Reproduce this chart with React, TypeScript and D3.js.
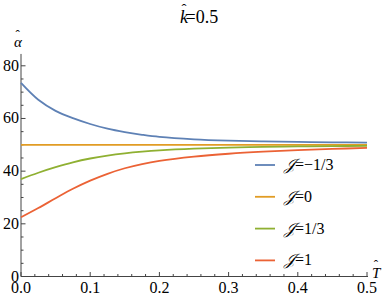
import React from "react";
import * as d3 from "d3";

const T = [0, 0.025, 0.05, 0.075, 0.1, 0.125, 0.15, 0.175, 0.2, 0.25, 0.3, 0.35, 0.4, 0.45, 0.5];
const blue = [73.5, 67.1, 62.9, 60.1, 57.9, 56.1, 54.8, 53.8, 53.0, 52.1, 51.6, 51.3, 51.1, 50.95, 50.8];
const orange = [50, 50, 50, 50, 50, 50, 50, 50, 50, 50, 50, 50, 50, 50, 50];
const green = [37.0, 39.4, 41.5, 43.35, 44.8, 45.9, 46.75, 47.4, 47.9, 48.55, 48.95, 49.2, 49.4, 49.5, 49.6];
const red = [22.5, 26.0, 29.7, 33.3, 36.4, 39.0, 41.1, 42.7, 43.9, 45.5, 46.6, 47.4, 48.0, 48.45, 48.8];
const labels = ["=\u22121/3", "=0", "=1/3", "=1"];
const colors = ["#5E81B5", "#E19C24", "#8FB032", "#EB6235"];
const series = [blue, orange, green, red];
const xTicks = [0, 0.1, 0.2, 0.3, 0.4, 0.5];
const yTicks = [0, 20, 40, 60, 80];

const font = "'Liberation Serif', serif";
const fs = { fontFamily: font };

export default function App() {
  const W = 388, H = 300;
  const x = d3.scaleLinear().domain([0, 0.5]).range([21, 367]);
  const y = d3.scaleLinear().domain([0, 80]).range([276.5, 65.8]);
  const line = (vals: number[]) =>
    d3.line<number>().x((_, i) => x(T[i])).y((d) => y(d)).curve(d3.curveCatmullRom.alpha(0.5))(vals) as string;
  const xMinor = d3.range(0, 0.5001, 0.02).filter((v) => Math.abs(v * 10 - Math.round(v * 10)) > 1e-6);
  const yMinor = d3.range(0, 85, 5).filter((v) => v % 20 !== 0);
  const axisCol = "#444";
  return (
    <svg width={W} height={H} style={{ position: "absolute", left: 0, top: 0, background: "#fff" }}>
      <text x={180} y={23} fontSize={18} style={fs}>
        <tspan fontStyle="italic">k</tspan>
        <tspan dx={-6.5} dy={-9} fontSize={15}>ˆ</tspan>
        <tspan dx={-1} dy={9}>=0.5</tspan>
      </text>
      <text x={14} y={47} fontSize={15} style={fs}>
        <tspan fontStyle="italic">α</tspan>
        <tspan dx={-6.5} dy={-8} fontSize={13}>ˆ</tspan>
      </text>
      <text x={372} y={278} fontSize={15} style={fs}>
        <tspan fontStyle="italic">T</tspan>
        <tspan dx={-6.5} dy={-9} fontSize={13}>ˆ</tspan>
      </text>
      <line x1={x(0)} x2={x(0)} y1={y(0)} y2={y(84.5)} stroke={axisCol} strokeWidth={1} />
      <line x1={x(0)} x2={x(0.5) + 1} y1={y(0)} y2={y(0)} stroke={axisCol} strokeWidth={1} />
      {yTicks.map((t) => (
        <g key={"y" + t}>
          <line x1={x(0)} x2={x(0) + 4.5} y1={y(t)} y2={y(t)} stroke={axisCol} />
          <text x={x(0) - 2} y={y(t) + 5} fontSize={16} textAnchor="end" style={fs}>{t}</text>
        </g>
      ))}
      {yMinor.map((t) => (
        <line key={"ym" + t} x1={x(0)} x2={x(0) + 2.5} y1={y(t)} y2={y(t)} stroke={axisCol} />
      ))}
      {xTicks.map((t) => (
        <g key={"x" + t}>
          <line x1={x(t)} x2={x(t)} y1={y(0)} y2={y(0) - 4.5} stroke={axisCol} />
          <text x={x(t)} y={y(0) + 16} fontSize={16} textAnchor="middle" style={fs}>{t.toFixed(1)}</text>
        </g>
      ))}
      {xMinor.map((t) => (
        <line key={"xm" + t} x1={x(t)} x2={x(t)} y1={y(0)} y2={y(0) - 2.5} stroke={axisCol} />
      ))}
      {series.map((s, i) => (
        <path key={i} d={line(s)} fill="none" stroke={colors[i]} strokeWidth={1.8} />
      ))}
      {labels.map((l, i) => (
        <g key={"l" + i}>
          <line x1={255} x2={275} y1={165 + i * 31.8} y2={165 + i * 31.8} stroke={colors[i]} strokeWidth={1.8} />
          <text x={284} y={170 + i * 31.8} fontSize={16} style={fs}>
            <tspan fontStyle="italic">𝒥</tspan>{l}
          </text>
        </g>
      ))}
    </svg>
  );
}
